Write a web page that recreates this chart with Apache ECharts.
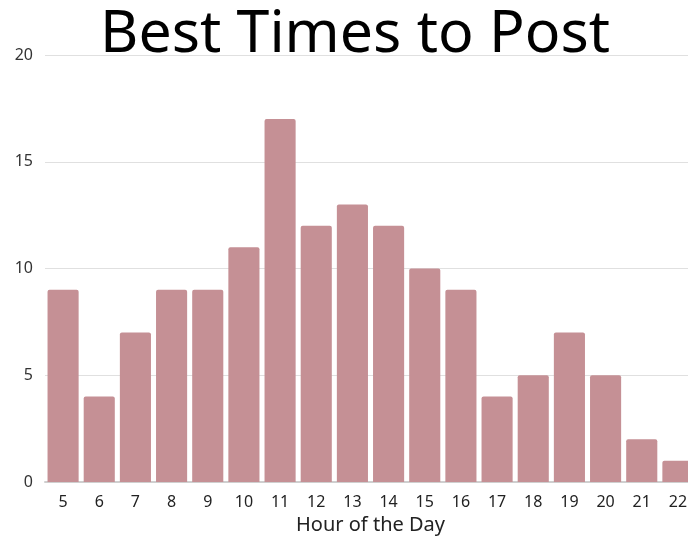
<!DOCTYPE html>
<html>
<head>
<meta charset="utf-8">
<script src="https://cdn.jsdelivr.net/npm/echarts@6/dist/echarts.min.js"></script>
<style>
  html, body { margin: 0; padding: 0; background: #fff; }
  #chart { width: 688px; height: 538px; }
</style>
</head>
<body>
<div id="chart"></div>
<script>
// Posting hours and the number of top posts in each hour
const hours = ['5', '6', '7', '8', '9', '10', '11', '12', '13', '14', '15', '16', '17', '18', '19', '20', '21', '22'];
const posts = [9, 4, 7, 9, 9, 11, 17, 12, 13, 12, 10, 9, 4, 5, 7, 5, 2, 1];
const yTicks = [0, 5, 10, 15, 20];

const chart = echarts.init(document.getElementById('chart'));
chart.setOption({
  backgroundColor: '#ffffff',
  animation: false,
  title: {
    text: 'Best Times to Post',
    left: 350,
    textAlign: 'center',
    top: 1,
    textStyle: {
      fontFamily: 'Noto Sans',
      fontSize: 59,
      fontWeight: 'normal',
      color: '#000'
    }
  },
  grid: {
    left: 45, width: 651, top: 55, bottom: 56,
    containLabel: false,
    outerBoundsMode: 'none'
  },
  xAxis: {
    type: 'category',
    data: hours,
    name: 'Hour of the Day',
    nameLocation: 'middle',
    nameGap: 32,
    nameTextStyle: { fontFamily: 'Noto Sans', fontSize: 20, color: '#222' },
    axisLine: { lineStyle: { color: '#cfcfcf', width: 2 } },
    axisTick: { show: false },
    axisLabel: { fontFamily: 'Noto Sans', fontSize: 16, color: '#222', margin: 12 }
  },
  yAxis: {
    type: 'value',
    min: yTicks[0],
    max: yTicks[yTicks.length - 1],
    interval: 5,
    axisLine: { show: false },
    axisTick: { show: false },
    axisLabel: { fontFamily: 'Noto Sans', fontSize: 16, color: '#333', margin: 12 },
    splitLine: { lineStyle: { color: '#e0e0e0', width: 1 } }
  },
  series: [{
    type: 'bar',
    data: posts,
    barCategoryGap: '14%',
    itemStyle: { color: '#c59095', borderRadius: [2, 2, 0, 0] }
  }]
});
</script>
</body>
</html>
